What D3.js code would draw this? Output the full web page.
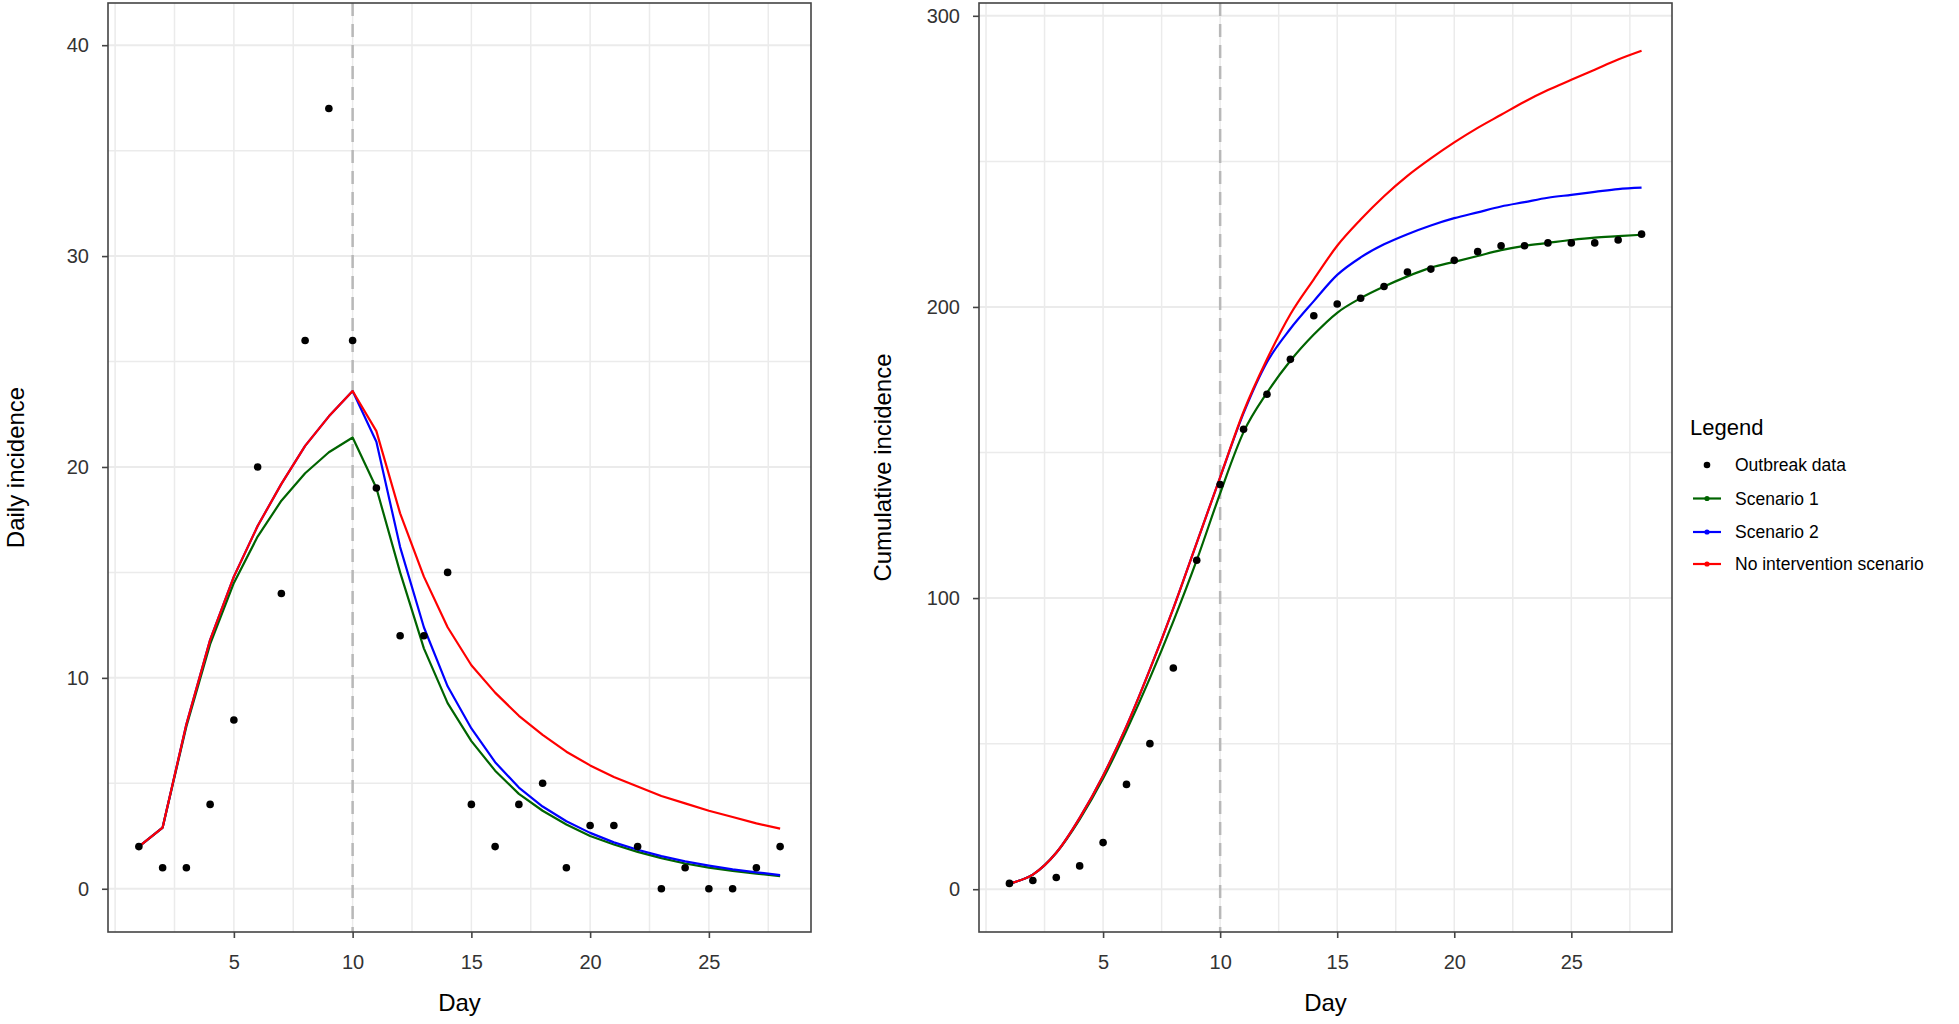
<!DOCTYPE html>
<html>
<head>
<meta charset="utf-8">
<script src="https://cdn.jsdelivr.net/npm/d3@7"></script>
<style>
  html, body { margin: 0; padding: 0; background: #fff; }
  svg { display: block; font-family: "Liberation Sans", Arial, sans-serif; }
</style>
</head>
<body>
<svg id="chart" width="1959" height="1024"></svg>
<script>
// ---------- data ----------
const days = d3.range(1, 29);
const dailyObserved = [2, 1, 1, 4, 8, 20, 14, 26, 37, 26, 19, 12, 12, 15, 4, 2, 4, 5, 1, 3, 3, 2, 0, 1, 0, 0, 1, 2];
const dailyScenario1 = [2, 2.9, 7.7, 11.6, 14.5, 16.7, 18.4, 19.7, 20.7, 21.4, 19.0, 15.0, 11.4, 8.8, 7.0, 5.6, 4.5, 3.7, 3.05, 2.5, 2.1, 1.75, 1.45, 1.2, 1.0, 0.85, 0.72, 0.6];
const dailyScenario2 = [2, 2.9, 7.8, 11.8, 14.8, 17.2, 19.2, 21.0, 22.4, 23.6, 21.2, 16.2, 12.4, 9.6, 7.6, 6.0, 4.8, 3.9, 3.2, 2.65, 2.2, 1.85, 1.55, 1.3, 1.1, 0.92, 0.78, 0.65];
const dailyNoIntervention = [2, 2.9, 7.8, 11.8, 14.8, 17.2, 19.2, 21.0, 22.4, 23.6, 21.7, 17.8, 14.8, 12.4, 10.6, 9.3, 8.2, 7.3, 6.5, 5.85, 5.3, 4.85, 4.4, 4.05, 3.7, 3.4, 3.1, 2.85];

const cumObserved = [2, 3, 4, 8, 16, 36, 50, 76, 113, 139, 158, 170, 182, 197, 201, 203, 207, 212, 213, 216, 219, 221, 221, 222, 222, 222, 223, 225];
const cumScenario1 = [2, 5, 12.5, 24, 38, 54.5, 72.5, 92, 113, 136, 157, 170.5, 181.5, 190.5, 198, 203, 207, 210.5, 213.5, 215.5, 217.5, 219.5, 221, 222, 223, 223.8, 224.3, 224.8];
const cumScenario2 = [2, 5, 12.5, 24.5, 39, 56, 75.5, 96.5, 119, 141.5, 163.5, 181, 192.5, 202, 211, 217, 221.5, 225, 228, 230.5, 232.5, 234.5, 236, 237.5, 238.5, 239.5, 240.5, 241];
const cumNoIntervention = [2, 5, 12.5, 24.5, 39, 56, 75.5, 96.5, 119, 141.5, 164, 182, 197.5, 209.5, 221, 230, 238, 245, 251, 256.5, 261.5, 266, 270.5, 274.5, 278, 281.5, 285, 288];

const xTicks = [5, 10, 15, 20, 25];
const dailyTicks = [0, 10, 20, 30, 40];
const cumTicks = [0, 100, 200, 300];
const interventionDay = 10;

const seriesNames = ["Outbreak data", "Scenario 1", "Scenario 2", "No intervention scenario"];
const seriesColors = ["#000000", "#006400", "#0000ff", "#ff0000"];

// ---------- drawing ----------
const svg = d3.select("#chart");

function panel(opts) {
  const { x0, x1, y0, y1, yDomain, yTicks, yMinor, observed, lines, title, titleX, curve } = opts;
  const x = d3.scaleLinear().domain([-0.3, 29.3]).range([x0, x1]);
  const y = d3.scaleLinear().domain(yDomain).range([y1, y0]);
  const g = svg.append("g");

  // grid
  const xGrid = d3.range(0, 28, 2.5);
  g.selectAll(".vg").data(xGrid).join("line")
    .attr("x1", d => x(d)).attr("x2", d => x(d)).attr("y1", y0).attr("y2", y1)
    .attr("stroke", "#ebebeb").attr("stroke-width", 1.5);
  g.selectAll(".hg").data(yMinor).join("line")
    .attr("x1", x0).attr("x2", x1).attr("y1", d => y(d)).attr("y2", d => y(d))
    .attr("stroke", "#ebebeb").attr("stroke-width", d => yTicks.includes(d) ? 2 : 1.5);

  // intervention line
  g.append("line")
    .attr("x1", x(interventionDay)).attr("x2", x(interventionDay)).attr("y1", y0).attr("y2", y1)
    .attr("stroke", "#b8b8b8").attr("stroke-width", 2.5).attr("stroke-dasharray", "13,8");

  // lines
  const lineGen = d3.line().x((d, i) => x(days[i])).y(d => y(d)).curve(curve);
  lines.forEach((vals, k) => {
    g.append("path").datum(vals)
      .attr("fill", "none").attr("stroke", seriesColors[k + 1])
      .attr("stroke-width", 2.2).attr("stroke-linejoin", "round").attr("d", lineGen);
  });

  // points
  g.selectAll(".pt").data(observed).join("circle")
    .attr("cx", (d, i) => x(days[i])).attr("cy", d => y(d)).attr("r", 3.8).attr("fill", "#000");

  // border
  g.append("rect").attr("x", x0).attr("y", y0).attr("width", x1 - x0).attr("height", y1 - y0)
    .attr("fill", "none").attr("stroke", "#444").attr("stroke-width", 1.6);

  // axes
  const xAxis = d3.axisBottom(x).tickValues(xTicks).tickSize(6).tickPadding(12).tickFormat(d3.format("d"));
  const xa = g.append("g").attr("transform", `translate(0,${y1})`).call(xAxis);
  const yAxis = d3.axisLeft(y).tickValues(yTicks).tickSize(6).tickPadding(13).tickFormat(d3.format("d"));
  const ya = g.append("g").attr("transform", `translate(${x0},0)`).call(yAxis);
  [xa, ya].forEach(a => {
    a.select(".domain").remove();
    a.selectAll(".tick line").attr("stroke", "#444").attr("stroke-width", 1.6);
    a.selectAll(".tick text").attr("fill", "#333").style("font-size", "20px");
  });
  xa.selectAll(".tick text").attr("dy", "0.95em");

  // titles
  svg.append("text").attr("x", (x0 + x1) / 2).attr("y", 1011)
    .attr("text-anchor", "middle").style("font-size", "24px").attr("fill", "#000").text("Day");
  svg.append("text").attr("transform", `translate(${titleX},${(y0 + y1) / 2}) rotate(-90)`)
    .attr("text-anchor", "middle").style("font-size", "24px").attr("fill", "#000").text(title);
}

panel({
  x0: 108, x1: 811, y0: 3, y1: 932,
  yDomain: [-2.05, 42.0], yTicks: dailyTicks, yMinor: d3.range(0, 41, 5),
  observed: dailyObserved,
  lines: [dailyScenario1, dailyScenario2, dailyNoIntervention],
  title: "Daily incidence", titleX: 24, curve: d3.curveLinear
});

panel({
  x0: 979, x1: 1672, y0: 3, y1: 932,
  yDomain: [-14.7, 304.4], yTicks: cumTicks, yMinor: d3.range(0, 301, 50),
  observed: cumObserved,
  lines: [cumScenario1, cumScenario2, cumNoIntervention],
  title: "Cumulative incidence", titleX: 891, curve: d3.curveMonotoneX
});

// legend
const lg = svg.append("g");
lg.append("text").attr("x", 1690).attr("y", 435).style("font-size", "22px").attr("fill", "#000").text("Legend");
const itemY = [465, 498.5, 532, 564];
seriesNames.forEach((name, i) => {
  const cy = itemY[i];
  if (i > 0) {
    lg.append("line").attr("x1", 1693).attr("x2", 1721).attr("y1", cy).attr("y2", cy)
      .attr("stroke", seriesColors[i]).attr("stroke-width", 2.2);
  }
  lg.append("circle").attr("cx", 1707).attr("cy", cy).attr("r", i === 0 ? 3.3 : 2.6).attr("fill", seriesColors[i]);
  lg.append("text").attr("x", 1735).attr("y", cy).attr("dy", "0.35em")
    .style("font-size", "17.5px").attr("fill", "#000").text(name);
});
</script>
</body>
</html>
